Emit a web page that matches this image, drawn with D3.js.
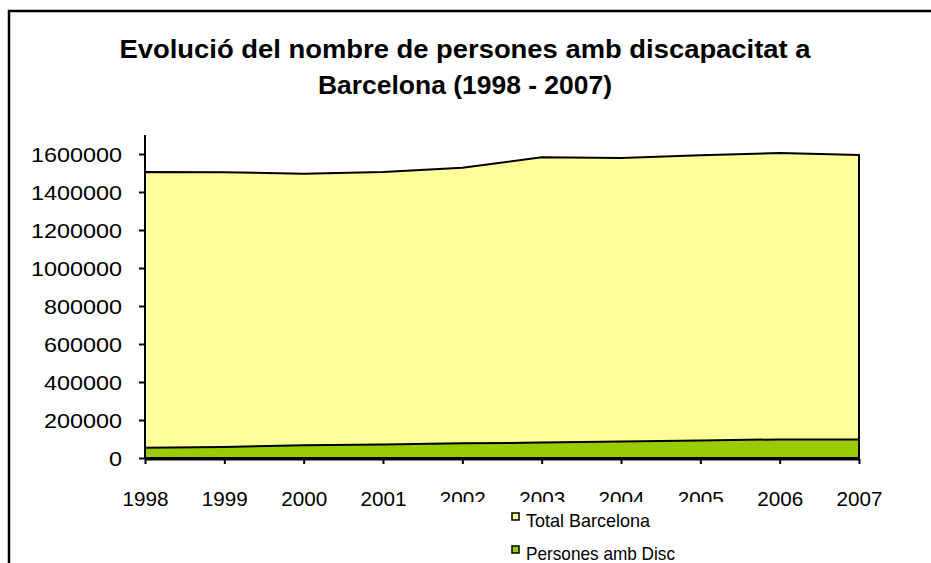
<!DOCTYPE html>
<html>
<head>
<meta charset="utf-8">
<script src="https://cdn.jsdelivr.net/npm/d3@7"></script>
<style>
  body { margin: 0; background: #fff; }
  text { font-family: "Liberation Sans", Arial, sans-serif; fill: #000; }
</style>
</head>
<body>
<div id="diagram_disc"></div>
<script>
//****************************************************************************
//Data

const years_disc = ["1998", "1999", "2000", "2001", "2002", "2003", "2004", "2005", "2006", "2007"]
const totalBarcelona_disc = [1505581, 1503884, 1496266, 1505325, 1527190, 1582738, 1578546, 1593075, 1605602, 1595110]
const personesDisc_disc = [54000, 58000, 67000, 71000, 77000, 81000, 87000, 92000, 98000, 98000]
const yTicks_disc = [0, 200000, 400000, 600000, 800000, 1000000, 1200000, 1400000, 1600000]
const seriesNames_disc = ["Total Barcelona", "Persones amb Disc"]
const titleLines_disc = ["Evolució del nombre de persones amb discapacitat  a", "Barcelona (1998  - 2007)"]

//****************************************************************************
//Chart (svg)

const canvWidth_disc = 931;
const canvHeight_disc = 563;
const margin_disc = {top: 135, left: 145, right: 72, bottom: 105};

const svg_disc = d3.select("#diagram_disc").append("svg")
  .attr("width", canvWidth_disc)
  .attr("height", canvHeight_disc);

//outer frame (runs off the right and bottom edge)
svg_disc.append("rect")
  .attr("x", 9).attr("y", 11)
  .attr("width", 960).attr("height", 600)
  .style("fill", "none").style("stroke", "#000").style("stroke-width", 2.5);

//title
svg_disc.selectAll(".chart-title")
  .data(titleLines_disc)
  .enter().append("text")
  .attr("class", "chart-title")
  .attr("x", 465)
  .attr("y", (d, i) => 58 + i * 36)
  .attr("text-anchor", "middle")
  .attr("font-size", "25px")
  .attr("font-weight", "bold")
  .attr("textLength", (d, i) => i === 0 ? 691 : 294)
  .attr("lengthAdjust", "spacingAndGlyphs")
  .text(d => d);

const g1_disc = svg_disc.append("g")
  .attr("transform", `translate(${margin_disc.left},${margin_disc.top})`);

//**************************************************************************
//Scales

const xScale_disc = d3.scalePoint().domain(years_disc).range([0, 714]);
const yScale_disc = d3.scaleLinear().domain([0, 1700000]).range([323, 0]);

const data_disc = years_disc.map((y, i) => ({year: y, total: totalBarcelona_disc[i], disc: personesDisc_disc[i]}));

//****************************
//areas

const areaTotal_disc = d3.area()
  .x(d => xScale_disc(d.year))
  .y0(yScale_disc(0))
  .y1(d => yScale_disc(d.total));

const areaDisc_disc = d3.area()
  .x(d => xScale_disc(d.year))
  .y0(yScale_disc(0))
  .y1(d => yScale_disc(d.disc));

g1_disc.append("path")
  .datum(data_disc)
  .attr("d", areaTotal_disc)
  .style("fill", "#FFFF99")
  .style("stroke", "#000")
  .style("stroke-width", 2);

g1_disc.append("path")
  .datum(data_disc)
  .attr("d", areaDisc_disc)
  .style("fill", "#99CC00")
  .style("stroke", "#000")
  .style("stroke-width", 2);

//****************************
//axes

const yAxis_disc = d3.axisLeft(yScale_disc).tickValues(yTicks_disc).tickSize(6).tickPadding(17).tickFormat(d3.format("d"));
const gY_disc = g1_disc.append("g").call(yAxis_disc);
gY_disc.selectAll("text")
  .attr("font-size", "20px")
  .attr("dy", "0.36em")
  .attr("textLength", d => String(d).length * 13)
  .attr("lengthAdjust", "spacingAndGlyphs");
gY_disc.selectAll("line, path").style("stroke", "#000").style("stroke-width", 2);
gY_disc.select(".domain").attr("d", `M0,${yScale_disc(0)}V0`);

const xAxis_disc = d3.axisBottom(xScale_disc).tickSize(5).tickPadding(27);
const gX_disc = g1_disc.append("g")
  .attr("transform", `translate(0,${yScale_disc(0) + 1})`)
  .call(xAxis_disc);
gX_disc.selectAll("text")
  .attr("font-size", "21px")
  .attr("textLength", 46)
  .attr("lengthAdjust", "spacingAndGlyphs");
gX_disc.selectAll("line").style("stroke", "#000").style("stroke-width", 2);
gX_disc.select(".domain").attr("d", `M0,0H${xScale_disc.range()[1]}`).style("stroke", "#000").style("stroke-width", 3);

//**************************************************************************
//Legend (white box sits over the middle year labels, as in the original)

const legend_disc = svg_disc.append("g");
legend_disc.append("rect")
  .attr("x", 430).attr("y", 502)
  .attr("width", 310).attr("height", 70)
  .style("fill", "#fff");

const legendColors_disc = ["#FFFF99", "#99CC00"];
const legendItem_disc = legend_disc.selectAll(".legend-item")
  .data(seriesNames_disc)
  .enter().append("g")
  .attr("class", "legend-item")
  .attr("transform", (d, i) => `translate(512,${513 + i * 33})`);

legendItem_disc.append("rect")
  .attr("width", 7).attr("height", 7)
  .style("fill", (d, i) => legendColors_disc[i])
  .style("stroke", "#000").style("stroke-width", 1.5);

legendItem_disc.append("text")
  .attr("x", 14).attr("y", 14)
  .attr("font-size", "19px")
  .attr("textLength", (d, i) => i === 0 ? 124 : 149)
  .attr("lengthAdjust", "spacingAndGlyphs")
  .text(d => d);
</script>
</body>
</html>
